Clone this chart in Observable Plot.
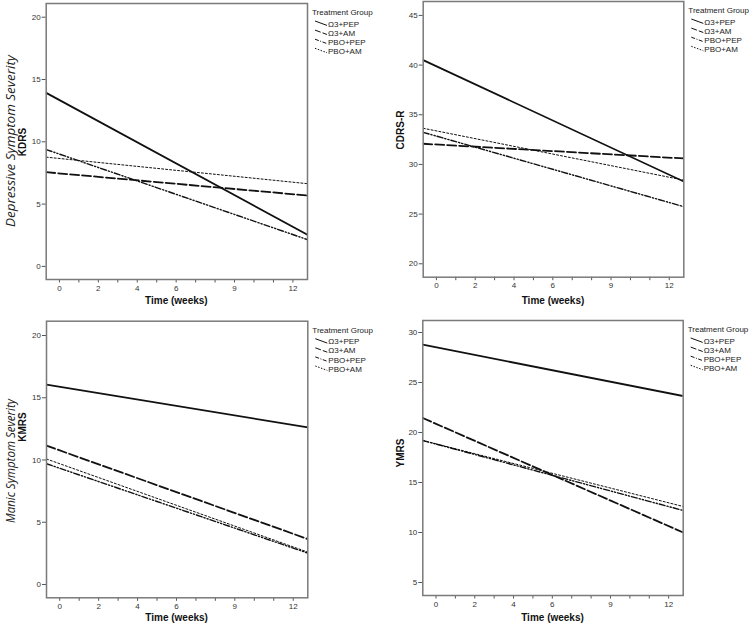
<!DOCTYPE html>
<html>
<head>
<meta charset="utf-8">
<script src="https://cdn.jsdelivr.net/npm/d3@7"></script>
<script src="https://cdn.jsdelivr.net/npm/@observablehq/plot@0.6"></script>
<style>
  html, body { margin: 0; padding: 0; background: #fff; }
  #wrap { position: relative; width: 751px; height: 627px; overflow: hidden; }
  #wrap > svg { position: absolute; }
</style>
</head>
<body>
<div id="wrap"></div>
<script>
// ---- Data ----
const groups = ["Ω3+PEP", "Ω3+AM", "PBO+PEP", "PBO+AM"];
const timeEnds = [-0.68, 12.75];           // fitted lines span the whole time axis
const weekTicks = [0,1,2,3,4,5,6,7,8,9,10,11,12];
const weekLabels = [0, 2, 4, 6, 9, 12];

const kdrsStart = [13.93, 7.56, 9.38, 8.77];
const kdrsEnd   = [2.54, 5.69, 2.15, 6.64];
const cdrsStart = [40.5, 32.08, 33.23, 33.64];
const cdrsEnd   = [28.28, 30.6, 25.75, 28.42];
const kmrsStart = [16.05, 11.15, 9.7, 10.08];
const kmrsEnd   = [12.62, 3.65, 2.52, 2.6];
const ymrsStart = [28.78, 21.45, 19.2, 19.2];
const ymrsEnd   = [23.65, 10.0, 12.2, 12.6];

const kdrsTicks = [0, 5, 10, 15, 20];
const cdrsTicks = [20, 25, 30, 35, 40, 45];
const kmrsTicks = [0, 5, 10, 15, 20];
const ymrsTicks = [5, 10, 15, 20, 25, 30];

const rowTitles = ["Depressive Symptom Severity", "Manic Symptom Severity"];
const xTitle = "Time (weeks)";
const legendTitle = "Treatment Group";

// ---- Styles ----
const lineStyles = [
  {strokeWidth: 1.8, strokeDasharray: null},
  {strokeWidth: 1.8, strokeDasharray: "9,3"},
  {strokeWidth: 1.4, strokeDasharray: "6,2,1.2,2,1.2,2"},
  {strokeWidth: 1.0, strokeDasharray: "2,2"}
];
const legendStyles = [null, "6,2", "4,1.5,1,1.5", "1.5,1.5"];

const panels = [
  {ylabel: "KDRS",   start: kdrsStart, end: kdrsEnd, ticks: kdrsTicks, yDomain: [-1.05, 21.1],
   left: 0,   top: 0,   width: 310, height: 310, mL: 45.7, mR: 3,   mT: 3,    mB: 31},
  {ylabel: "CDRS-R", start: cdrsStart, end: cdrsEnd, ticks: cdrsTicks, yDomain: [18.65, 46.4],
   left: 380, top: 0,   width: 310, height: 310, mL: 42.7, mR: 6.7, mT: 1,    mB: 33.3},
  {ylabel: "KMRS",   start: kmrsStart, end: kmrsEnd, ticks: kmrsTicks, yDomain: [-1.07, 21.15],
   left: 0,   top: 310, width: 310, height: 317, mL: 46,   mR: 2.7, mT: 10.7, mB: 29.7},
  {ylabel: "YMRS",   start: ymrsStart, end: ymrsEnd, ticks: ymrsTicks, yDomain: [3.7, 31.2],
   left: 380, top: 310, width: 310, height: 317, mL: 42.3, mR: 7.3, mT: 10,   mB: 32}
];

const wrap = document.getElementById("wrap");

for (const p of panels) {
  const data = groups.flatMap((g, i) => [
    {g, t: timeEnds[0], v: p.start[i]},
    {g, t: timeEnds[1], v: p.end[i]}
  ]);
  const marks = [
    Plot.axisX(weekTicks, {tickSize: 3.5, tickPadding: 2, label: null,
      tickFormat: d => weekLabels.includes(d) ? String(d) : "", stroke: "#555"}),
    Plot.axisY(p.ticks, {tickSize: 4, tickPadding: 1.5, label: null, stroke: "#555"})
  ];
  groups.forEach((g, i) => {
    marks.push(Plot.line(data.filter(d => d.g === g), {
      x: "t", y: "v", stroke: "#111",
      strokeWidth: lineStyles[i].strokeWidth,
      strokeDasharray: lineStyles[i].strokeDasharray,
      clip: true
    }));
  });
  marks.push(Plot.frame({stroke: "#7a7a7a", strokeWidth: 1.5}));

  const chart = Plot.plot({
    width: p.width, height: p.height,
    marginLeft: p.mL, marginRight: p.mR, marginTop: p.mT, marginBottom: p.mB,
    x: {domain: [timeEnds[0], timeEnds[1]]},
    y: {domain: p.yDomain},
    style: {fontFamily: "'Liberation Sans', Arial, sans-serif", fontSize: "8px", color: "#333", background: "transparent", overflow: "visible"},
    marks
  });
  chart.style.left = p.left + "px";
  chart.style.top = p.top + "px";
  wrap.appendChild(chart);
  p.fx0 = p.left + p.mL; p.fx1 = p.left + p.width - p.mR;
  p.fy0 = p.top + p.mT;  p.fy1 = p.top + p.height - p.mB;
}

// ---- Overlay: titles, axis titles, legends ----
const svg = d3.select(wrap).append("svg")
  .attr("width", 751).attr("height", 627)
  .style("left", "0px").style("top", "0px")
  .style("pointer-events", "none")
  .style("font-family", "'Liberation Sans', Arial, sans-serif");

// row titles (italic, large)
[[0, 141, 172], [1, 461, 124]].forEach(([i, cy, len]) => {
  svg.append("text")
    .attr("transform", `translate(14.5,${cy}) rotate(-90)`)
    .attr("text-anchor", "middle")
    .attr("textLength", len)
    .attr("lengthAdjust", "spacingAndGlyphs")
    .style("font-family", "'Open Sans', 'Noto Sans', sans-serif")
    .style("font-style", "italic")
    .style("font-size", "13.5px")
    .attr("fill", "#222")
    .text(rowTitles[i]);
});

const ylabelPos = [[25.5, 142], [404, 130], [25.5, 427], [404, 453]];
const xlabelY = [300, 300, 617, 617];

panels.forEach((p, k) => {
  // y axis title
  svg.append("text")
    .attr("transform", `translate(${ylabelPos[k][0]},${ylabelPos[k][1]}) rotate(-90)`)
    .attr("text-anchor", "middle")
    .style("font-weight", "bold").style("font-size", "10px")
    .attr("fill", "#111")
    .text(p.ylabel);
  // x axis title
  svg.append("text")
    .attr("x", (p.fx0 + p.fx1) / 2).attr("y", xlabelY[k])
    .attr("dy", "0.35em")
    .attr("text-anchor", "middle")
    .style("font-weight", "bold").style("font-size", "10px")
    .attr("fill", "#111")
    .text(xTitle);
  // legend
  const lx = p.fx1 + 5;
  const ly = p.fy0 + 9.3;
  const lg = svg.append("g").attr("transform", `translate(${lx},${ly})`);
  lg.append("text").attr("x", 0).attr("y", 0).attr("dy", "0.35em")
    .style("font-size", "8px").attr("fill", "#222").text(legendTitle);
  groups.forEach((g, i) => {
    const y = 11.5 + i * 9.1;
    lg.append("line")
      .attr("x1", 3).attr("y1", y - 2.8).attr("x2", 15).attr("y2", y + 1.6)
      .attr("stroke", "#111").attr("stroke-width", 1)
      .attr("stroke-dasharray", legendStyles[i]);
    lg.append("text").attr("x", 16).attr("y", y).attr("dy", "0.35em")
      .style("font-size", "8px").attr("fill", "#222").text(g);
  });
});
</script>
</body>
</html>
